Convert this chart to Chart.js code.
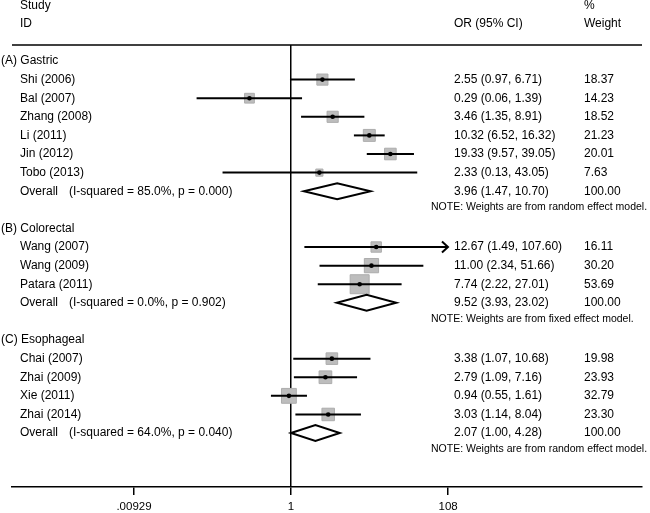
<!DOCTYPE html>
<html>
<head>
<meta charset="utf-8">
<script src="https://cdn.jsdelivr.net/npm/chart.js@4.4.1/dist/chart.umd.min.js"></script>
<style>
  html, body { margin: 0; padding: 0; background: #fff; }
  #wrap { width: 650px; height: 513px; position: relative; }
</style>
</head>
<body>
<div id="wrap"><canvas id="c"></canvas></div>
<script>
// ---------------- data ----------------
const groupNames = ['(A) Gastric', '(B) Colorectal', '(C) Esophageal'];
const studyNames = ['Shi (2006)', 'Bal (2007)', 'Zhang (2008)', 'Li (2011)', 'Jin (2012)', 'Tobo (2013)',
                    'Wang (2007)', 'Wang (2009)', 'Patara (2011)',
                    'Chai (2007)', 'Zhai (2009)', 'Xie (2011)', 'Zhai (2014)'];
const studyGroup  = [0, 0, 0, 0, 0, 0, 1, 1, 1, 2, 2, 2, 2];
const studyOR     = [2.55, 0.29, 3.46, 10.32, 19.33, 2.33, 12.67, 11.00, 7.74, 3.38, 2.79, 0.94, 3.03];
const studyLo     = [0.97, 0.06, 1.35, 6.52, 9.57, 0.13, 1.49, 2.34, 2.22, 1.07, 1.09, 0.55, 1.14];
const studyHi     = [6.71, 1.39, 8.91, 16.32, 39.05, 43.05, 107.60, 51.66, 27.01, 10.68, 7.16, 1.61, 8.04];
const studyWeight = [18.37, 14.23, 18.52, 21.23, 20.01, 7.63, 16.11, 30.20, 53.69, 19.98, 23.93, 32.79, 23.30];
const overallOR   = [3.96, 9.52, 2.07];
const overallLo   = [1.47, 3.93, 1.00];
const overallHi   = [10.70, 23.02, 4.28];
const overallW    = [100.00, 100.00, 100.00];
const overallI2   = ['85.0%', '0.0%', '64.0%'];
const overallP    = ['0.000', '0.902', '0.040'];
const overallModel = ['random', 'fixed', 'random'];
const tickValues  = [0.00929, 1, 108];
const tickLabels  = ['.00929', '1', '108'];
const plotLimit   = 107.6;   // CI clipped (arrow) at this value

// ---------------- row layout ----------------
const studyRow = [], overallRow = [], groupRow = [];
(function () {
  let r = 0;
  for (let g = 0; g < groupNames.length; g++) {
    groupRow.push(r); r++;
    for (let i = 0; i < studyNames.length; i++) {
      if (studyGroup[i] === g) { studyRow[i] = r; r++; }
    }
    overallRow.push(r); r++;
    r++; // blank / note row
  }
})();

const FONT = '"Liberation Sans", Arial, Helvetica, sans-serif';
const fmt = v => v.toFixed(2);

const forestPlugin = {
  id: 'forest',
  afterDatasetsDraw(chart) {
    const ctx = chart.ctx, xs = chart.scales.x, ys = chart.scales.y;
    const area = chart.chartArea;
    ctx.save();
    ctx.strokeStyle = '#000';
    // CI lines
    ctx.lineWidth = 2;
    for (let i = 0; i < studyNames.length; i++) {
      const y = ys.getPixelForValue(studyRow[i]);
      const lo = Math.max(studyLo[i], 1 / plotLimit);
      const hi = Math.min(studyHi[i], plotLimit);
      const x1 = xs.getPixelForValue(lo), x2 = xs.getPixelForValue(hi);
      ctx.beginPath(); ctx.moveTo(x1, y); ctx.lineTo(x2, y); ctx.stroke();
      if (studyHi[i] >= plotLimit) {
        ctx.beginPath();
        ctx.moveTo(x2 - 6, y - 5.5); ctx.lineTo(x2, y); ctx.lineTo(x2 - 6, y + 5.5);
        ctx.stroke();
      }
    }
    // estimate dots on top of lines
    ctx.fillStyle = '#000';
    for (let i = 0; i < studyNames.length; i++) {
      const y = ys.getPixelForValue(studyRow[i]);
      const x = xs.getPixelForValue(studyOR[i]);
      ctx.beginPath(); ctx.arc(x, y, 2.3, 0, Math.PI * 2); ctx.fill();
    }
    // Overall diamonds
    for (let g = 0; g < overallOR.length; g++) {
      const y = ys.getPixelForValue(overallRow[g]);
      const xl = xs.getPixelForValue(overallLo[g]);
      const xc = xs.getPixelForValue(overallOR[g]);
      const xr = xs.getPixelForValue(overallHi[g]);
      ctx.beginPath();
      ctx.moveTo(xl, y); ctx.lineTo(xc, y - 8); ctx.lineTo(xr, y); ctx.lineTo(xc, y + 8); ctx.closePath();
      ctx.fillStyle = '#fff'; ctx.fill();
      ctx.lineWidth = 2; ctx.stroke();
    }
    // top rule
    ctx.lineWidth = 1.5;
    ctx.beginPath(); ctx.moveTo(area.left, area.top); ctx.lineTo(area.right, area.top); ctx.stroke();
    ctx.restore();
  },
  afterDraw(chart) {
    const ctx = chart.ctx, ys = chart.scales.y;
    const colOR = 454, colW = 584, colName = 20, colGroup = 1, colNote = 431, colI2 = 69;
    ctx.save();
    ctx.fillStyle = '#000';
    ctx.textBaseline = 'middle';
    ctx.textAlign = 'left';
    ctx.font = '12px ' + FONT;
    const Y = r => ys.getPixelForValue(r);
    // headers
    ctx.fillText('Study', colName, Y(-3));
    ctx.fillText('ID', colName, Y(-2));
    ctx.fillText('OR (95% CI)', colOR, Y(-2));
    ctx.fillText('%', colW, Y(-3));
    ctx.fillText('Weight', colW, Y(-2));
    for (let g = 0; g < groupNames.length; g++) {
      ctx.font = '12px ' + FONT;
      ctx.fillText(groupNames[g], colGroup, Y(groupRow[g]));
      const yo = Y(overallRow[g]);
      ctx.fillText('Overall', colName, yo);
      ctx.fillText('(I-squared = ' + overallI2[g] + ', p = ' + overallP[g] + ')', colI2, yo);
      ctx.fillText(fmt(overallOR[g]) + ' (' + fmt(overallLo[g]) + ', ' + fmt(overallHi[g]) + ')', colOR, yo);
      ctx.fillText(fmt(overallW[g]), colW, yo);
      ctx.font = '10.5px ' + FONT;
      ctx.fillText('NOTE: Weights are from ' + overallModel[g] + ' effect model.', colNote, Y(overallRow[g] + 0.85));
    }
    ctx.font = '12px ' + FONT;
    for (let i = 0; i < studyNames.length; i++) {
      const y = Y(studyRow[i]);
      ctx.fillText(studyNames[i], colName, y);
      ctx.fillText(fmt(studyOR[i]) + ' (' + fmt(studyLo[i]) + ', ' + fmt(studyHi[i]) + ')', colOR, y);
      ctx.fillText(fmt(studyWeight[i]), colW, y);
    }
    ctx.restore();
  }
};

const boxData = studyNames.map((n, i) => ({ x: studyOR[i], y: studyRow[i] }));
const boxSide = w => 2.593 * Math.sqrt(w);

new Chart(document.getElementById('c'), {
  type: 'scatter',
  data: {
    datasets: [
      {
        label: 'weight box',
        data: boxData,
        pointStyle: 'rect',
        pointRadius: ctx => boxSide(studyWeight[ctx.dataIndex]) / Math.SQRT2,
        pointHoverRadius: ctx => boxSide(studyWeight[ctx.dataIndex]) / Math.SQRT2,
        backgroundColor: '#bdbdbd',
        borderColor: '#adadad',
        borderWidth: 1
      }
    ]
  },
  options: {
    responsive: true,
    maintainAspectRatio: false,
    animation: false,
    devicePixelRatio: 1,
    layout: { autoPadding: false, padding: { top: 45, left: 12, right: 8, bottom: 0 } },
    plugins: { legend: { display: false }, tooltip: { enabled: false } },
    events: [],
    scales: {
      x: {
        type: 'logarithmic',
        position: 'bottom',
        bounds: 'data',
        min: Math.pow(10, -3.611),
        max: Math.pow(10, 4.543),
        afterBuildTicks: s => { s.ticks = tickValues.map(v => ({ value: v })); },
        afterFit: s => { s.height = 26; },
        ticks: {
          autoSkip: false, maxRotation: 0, padding: 5, color: '#000',
          font: { family: FONT, size: 11.5 },
          callback: (v, i) => tickLabels[i]
        },
        grid: {
          drawOnChartArea: true,
          drawTicks: true,
          tickLength: 8,
          lineWidth: 1.5,
          color: ctx => (ctx.tick && ctx.tick.value === 1) ? '#000' : 'rgba(0,0,0,0)',
          tickColor: '#000'
        },
        border: { display: true, color: '#000', width: 1.5 }
      },
      y: {
        type: 'linear',
        display: false,
        reverse: true,
        min: -0.86,
        max: 22.9
      }
    }
  },
  plugins: [forestPlugin]
});
</script>
</body>
</html>
